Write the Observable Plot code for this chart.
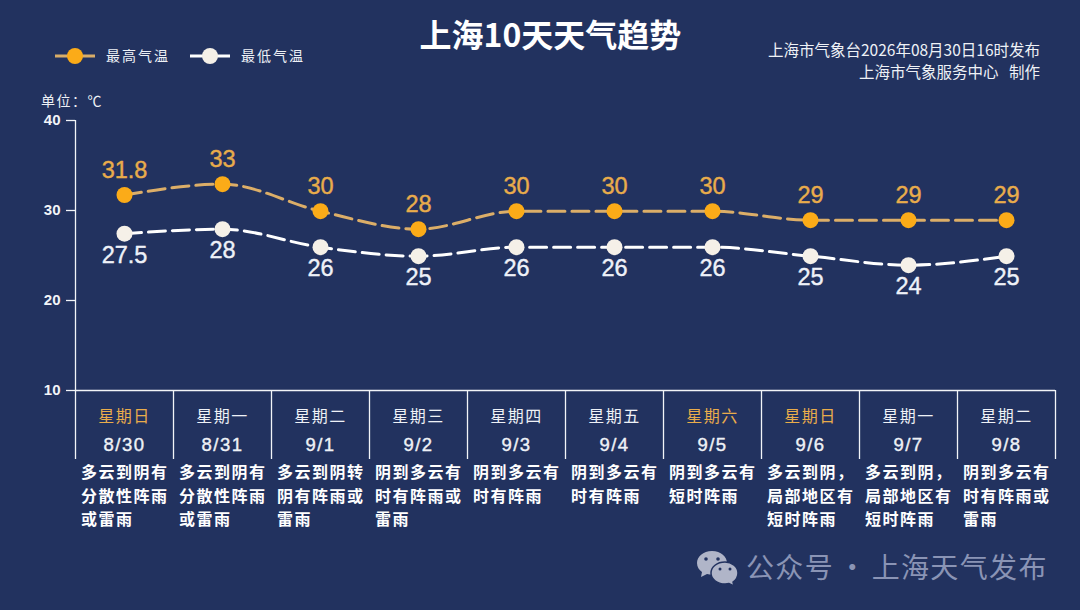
<!DOCTYPE html>
<html><head><meta charset="utf-8">
<script src="https://cdn.jsdelivr.net/npm/d3@7"></script>
<script src="https://cdn.jsdelivr.net/npm/@observablehq/plot@0.6"></script>
<style>
html,body{margin:0;padding:0;background:#22325f;width:1080px;height:610px;overflow:hidden}
body{position:relative;font-family:"Noto Sans CJK SC",sans-serif;color:#eef1f6}
.abs{position:absolute;white-space:nowrap;line-height:1}
#chart{position:absolute;left:0;top:0}
.wk text{letter-spacing:1.5px}
.dt text{letter-spacing:1.5px}
.cond text{letter-spacing:1.5px}
.val text{paint-order:stroke}
</style></head><body>
<div id="chart"></div>
<div class="abs" style="left:0;width:1101px;top:17px;text-align:center;font-size:32px;font-weight:700;color:#fff">上海10天天气趋势</div>
<svg class="abs" style="left:50px;top:42px" width="260" height="28">
<line x1="5" x2="45" y1="14" y2="14" stroke="#d9ad68" stroke-width="3"/><circle cx="25" cy="14" r="8" fill="#fbab18"/>
<line x1="140" x2="180" y1="14" y2="14" stroke="#fff" stroke-width="3"/><circle cx="160" cy="14" r="8" fill="#f5f0e8"/>
</svg>
<div class="abs" style="left:106px;top:48px;font-size:14px;letter-spacing:2px">最高气温</div>
<div class="abs" style="left:241px;top:48px;font-size:14px;letter-spacing:2px">最低气温</div>
<div class="abs" style="left:41px;top:93px;font-size:14px;letter-spacing:1.5px">单位：℃</div>
<div class="abs" style="right:40px;top:42px;font-size:15.5px">上海市气象台2026年08月30日16时发布</div>
<div class="abs" style="right:40px;top:64px;font-size:15.5px">上海市气象服务中心&nbsp;&nbsp;&nbsp;制作</div>
<svg class="abs" style="left:695px;top:549px" width="44" height="36" viewBox="0 0 44 36">
<path d="M17 2C8 2 2 8 2 14c0 4 2 7 5 9l-1 5 6-3c2 .5 3 .6 5 .6C26 26 32 20 32 14S26 2 17 2Z" fill="#b0b5c8"/>
<path d="M30 13c-8 0-14 5-14 11s6 11 14 11c2 0 3-.2 4-.5l5 2.500-1-4c3-2 5-5 5-9 0-6-6-11-13-11Z" fill="#b0b5c8" stroke="#22325f" stroke-width="1.500"/>
<circle cx="11" cy="10" r="1.800" fill="#22325f"/><circle cx="23" cy="10" r="1.800" fill="#22325f"/>
<circle cx="25" cy="20" r="1.500" fill="#22325f"/><circle cx="35" cy="20" r="1.500" fill="#22325f"/>
</svg>
<div class="abs" style="left:746px;top:552px;font-size:28px;letter-spacing:1.35px;word-spacing:-3.5px;color:#8a94b5">公众号 · 上海天气发布</div>
<script>
const weekdays = ["星期日","星期一","星期二","星期三","星期四","星期五","星期六","星期日","星期一","星期二"];
const dates = ["8/30","8/31","9/1","9/2","9/3","9/4","9/5","9/6","9/7","9/8"];
const highs = [31.8,33,30,28,30,30,30,29,29,29];
const lows = [27.5,28,26,25,26,26,26,25,24,25];
const conditions = [
"多云到阴有\n分散性阵雨\n或雷雨","多云到阴有\n分散性阵雨\n或雷雨","多云到阴转\n阴有阵雨或\n雷雨",
"阴到多云有\n时有阵雨或\n雷雨","阴到多云有\n时有阵雨","阴到多云有\n时有阵雨","阴到多云有\n短时阵雨",
"多云到阴，\n局部地区有\n短时阵雨","多云到阴，\n局部地区有\n短时阵雨","阴到多云有\n时有阵雨或\n雷雨"];
const yTicks = [10,20,30,40];
const orange="#fbab18", orangeLine="#dcae68", orangeText="#e9ac4b", white="#ffffff", pale="#f5f0e8", axis="#f2f4f8";
const idx = d3.range(dates.length);
const mid = i=>i+0.5;
const FONT='"Liberation Sans",sans-serif', CJK='"Noto Sans CJK SC",sans-serif';
const series=(vals,line,fill,text,dy)=>[
  Plot.line(idx,{x:mid,y:i=>vals[i],dy:0.7,stroke:line,strokeWidth:3,strokeDasharray:"17 7",curve:"monotone-x"}),
  Plot.dot(idx,{x:mid,y:i=>vals[i],dy:0.7,r:8,fill}),
  Plot.text(idx,{x:mid,y:i=>vals[i],text:i=>String(vals[i]),dy,fill:text,stroke:text,strokeWidth:0.4,fontSize:23.5,fontFamily:FONT,className:"val"})
];
const plot=Plot.plot({
  width:1080,height:610,marginLeft:75,marginRight:25,marginTop:120,marginBottom:220,
  style:{background:"transparent",color:axis},
  x:{type:"linear",domain:[0,10],axis:null},
  y:{domain:[10,40],axis:null},
  marks:[
    Plot.axisX(d3.range(0,11),{anchor:"bottom",tickSize:69,tickFormat:()=>"",stroke:axis,strokeWidth:1.3,label:null}),
    Plot.axisY(yTicks,{anchor:"left",tickSize:9,tickPadding:6,label:null,fill:axis,stroke:axis,strokeWidth:1.3,fontSize:15,fontWeight:700,fontFamily:FONT}),
    Plot.ruleX([0],{stroke:axis,strokeWidth:1.3}),
    Plot.ruleY([10],{stroke:axis,strokeWidth:1.3}),
    ...series(highs,orangeLine,orange,orangeText,-24),
    ...series(lows,white,pale,"#eef1f8",22),
    Plot.text(idx,{x:mid,frameAnchor:"bottom",lineAnchor:"middle",dy:26,text:i=>weekdays[i],fill:i=>(i==0||i==6||i==7)?orangeText:"#eef1f6",fontSize:16,fontFamily:CJK,className:"wk"}),
    Plot.text(idx,{x:mid,frameAnchor:"bottom",lineAnchor:"middle",dy:55,text:i=>dates[i],fill:"#eef1f6",stroke:"#eef1f6",strokeWidth:0.4,fontSize:18.5,fontFamily:FONT,className:"dt"}),
    Plot.text(idx,{x:mid,frameAnchor:"bottom",lineAnchor:"top",dy:71,dx:-43.5,textAnchor:"start",lineHeight:1.47,text:i=>conditions[i],fill:"#fff",fontSize:16,fontWeight:700,fontFamily:CJK,className:"cond"})
  ]
});
document.getElementById("chart").append(plot);
</script>
</body></html>
